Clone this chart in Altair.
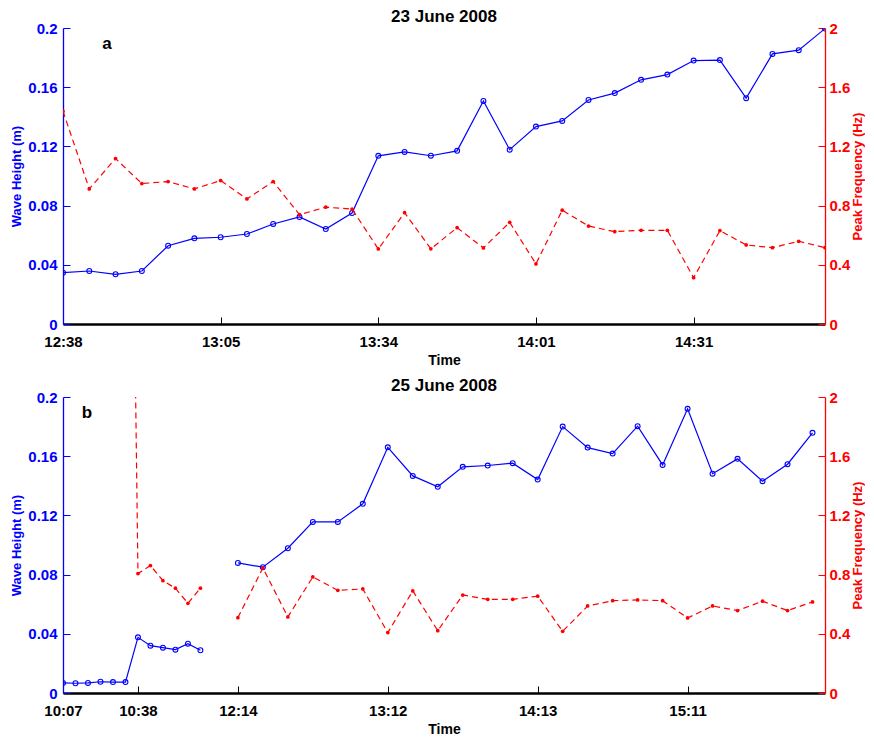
import altair as alt
import pandas as pd

FONT = "Liberation Sans"
BLUE = "#0000ff"
RED = "#ff0000"

# ---------------- Panel a : 23 June 2008 ----------------
a_idx = list(range(30))
a_seg = [0] * 30
a_wave = [0.0347, 0.0358, 0.0336, 0.0358, 0.0529, 0.0579, 0.0586, 0.0608, 0.0676, 0.0723,
          0.0642, 0.0750, 0.1136, 0.1163, 0.1137, 0.1170, 0.1507, 0.1178, 0.1334, 0.1372,
          0.1514, 0.1560, 0.1650, 0.1685, 0.1780, 0.1783, 0.1526, 0.1825, 0.1850, 0.1996]
a_freq = [1.438, 0.913, 1.118, 0.949, 0.962, 0.913, 0.969, 0.845, 0.962, 0.739,
          0.789, 0.777, 0.507, 0.752, 0.508, 0.651, 0.514, 0.687, 0.406, 0.769,
          0.662, 0.624, 0.633, 0.633, 0.313, 0.631, 0.534, 0.516, 0.559, 0.516]
a_tick_pos = [0, 6, 12, 18, 24]
a_tick_lab = ["12:38", "13:05", "13:34", "14:01", "14:31"]

# ---------------- Panel b : 25 June 2008 ----------------
b_idx = list(range(12)) + list(range(14, 61, 2))
b_seg = [0] * 12 + [1] * 24
b_wave = [0.0068, 0.0066, 0.0068, 0.0076, 0.0074, 0.0074, 0.0376, 0.0320, 0.0306, 0.0293,
          0.0333, 0.0289,
          0.0879, 0.0850, 0.0978, 0.1156, 0.1156, 0.1278, 0.1660, 0.1467, 0.1393, 0.1528,
          0.1537, 0.1553, 0.1442, 0.1800, 0.1658, 0.1618, 0.1803, 0.1541, 0.1920, 0.1482,
          0.1582, 0.1431, 0.1546, 0.1758]
b_freq = [None, None, None, None, None, 7.3, 0.807, 0.861, 0.759, 0.708,
          0.606, 0.708,
          0.509, 0.845, 0.514, 0.784, 0.694, 0.703, 0.408, 0.690, 0.421, 0.662,
          0.633, 0.633, 0.654, 0.417, 0.588, 0.624, 0.629, 0.624, 0.507, 0.588,
          0.557, 0.620, 0.557, 0.615]
b_tick_pos = [0, 6, 14, 26, 38, 50]
b_tick_lab = ["10:07", "10:38", "12:14", "13:12", "14:13", "15:11"]

wave_ticks = [0, 0.04, 0.08, 0.12, 0.16, 0.2]
freq_ticks = [0, 0.4, 0.8, 1.2, 1.6, 2]

TICK = 7
W, H = 762, 296


def panel(idx, seg, wave, freq, xmax, tick_pos, tick_lab, title, letter, letter_x):
    df = pd.DataFrame({"idx": idx, "seg": seg, "wave": wave, "freq": freq})
    xs = alt.Scale(domain=[0, xmax], nice=False, zero=False)
    ysw = alt.Scale(domain=[0, 0.2], nice=False, zero=False)
    ysf = alt.Scale(domain=[0, 2], nice=False, zero=False)
    lab_expr = "[" + ",".join("'%s'" % t for t in tick_lab) + "][indexof([" + \
        ",".join(str(p) for p in tick_pos) + "], datum.value)]"

    x_ticks = alt.Axis(orient="bottom", values=tick_pos, labelExpr=lab_expr, offset=-TICK,
                       tickSize=TICK, tickColor="black", tickWidth=1, domain=False, grid=False,
                       labelFlush=False, labelFont=FONT, labelFontSize=15, labelFontWeight="bold",
                       labelColor="black", labelPadding=10, title="Time", titleFont=FONT,
                       titleFontSize=14, titleFontWeight="bold", titleColor="black",
                       titlePadding=4)
    x_dom = alt.Axis(orient="bottom", domain=True, domainColor="black", domainWidth=2.5,
                     ticks=False, labels=False, title=None, grid=False)
    yw_ticks = alt.Axis(orient="left", values=wave_ticks, format="~g", offset=-TICK,
                        tickSize=TICK, tickColor=BLUE, tickWidth=1, domain=False, grid=False,
                        labelFont=FONT, labelFontSize=15, labelFontWeight="bold",
                        labelColor=BLUE, labelPadding=6, title="Wave Height (m)",
                        titleFont=FONT, titleFontSize=13, titleFontWeight="bold",
                        titleColor=BLUE, titlePadding=4)
    yw_dom = alt.Axis(orient="left", domain=True, domainColor=BLUE, domainWidth=1.3,
                      ticks=False, labels=False, title=None, grid=False)
    yf_ticks = alt.Axis(orient="right", values=freq_ticks, format="~g", offset=-TICK,
                        tickSize=TICK, tickColor=RED, tickWidth=1, domain=False, grid=False,
                        labelFont=FONT, labelFontSize=15, labelFontWeight="bold",
                        labelColor=RED, labelPadding=4, title="Peak Frequency (Hz)",
                        titleFont=FONT, titleFontSize=13, titleFontWeight="bold",
                        titleColor=RED, titlePadding=2, titleAngle=270, titleBaseline="top")
    yf_dom = alt.Axis(orient="right", domain=True, domainColor=RED, domainWidth=1.3,
                      ticks=False, labels=False, title=None, grid=False)

    base = alt.Chart(df)
    blue_line = base.mark_line(color=BLUE, strokeWidth=1.2, clip=True).encode(
        x=alt.X("idx:Q", scale=xs, axis=x_ticks),
        y=alt.Y("wave:Q", scale=ysw, axis=yw_ticks),
        detail="seg:N",
        order="idx:Q",
    )
    blue_pts = base.mark_point(shape="circle", filled=False, size=24, strokeWidth=1.1,
                               color=BLUE, opacity=1, clip=True).encode(
        x=alt.X("idx:Q", scale=xs, axis=x_dom),
        y=alt.Y("wave:Q", scale=ysw, axis=yw_dom),
    )
    red_base = base.transform_filter("isValid(datum.freq)")
    red_line = red_base.mark_line(color=RED, strokeWidth=1.2, strokeDash=[6, 4],
                                  clip=True).encode(
        x=alt.X("idx:Q", scale=xs, axis=None),
        y=alt.Y("freq:Q", scale=ysf, axis=yf_ticks),
        detail="seg:N",
        order="idx:Q",
    )
    red_pts = red_base.mark_circle(size=14, color=RED, opacity=1, clip=True).encode(
        x=alt.X("idx:Q", scale=xs, axis=None),
        y=alt.Y("freq:Q", scale=ysf, axis=yf_dom),
    )
    lab = alt.Chart(pd.DataFrame({"t": [letter]})).mark_text(
        font=FONT, fontSize=17, fontWeight="bold", align="center", baseline="middle",
        color="black").encode(text="t:N", x=alt.value(letter_x), y=alt.value(16))

    return alt.layer(blue_line, blue_pts, red_line, red_pts, lab).resolve_scale(
        x="independent", y="independent").properties(
        width=W, height=H,
        title=alt.TitleParams(title, font=FONT, fontSize=17, fontWeight="bold",
                              color="black", anchor="middle", offset=-5))


pa = panel(a_idx, a_seg, a_wave, a_freq, 29, a_tick_pos, a_tick_lab, "23 June 2008", "a", 44)
pb = panel(b_idx, b_seg, b_wave, b_freq, 61, b_tick_pos, b_tick_lab, "25 June 2008", "b", 24)

chart = alt.vconcat(pa, pb, spacing=10).configure_view(stroke=None).properties(
    padding={"left": 2, "top": 0, "right": 0, "bottom": 0})

chart.save("out.html", embed_options={"renderer": "svg", "actions": False})
